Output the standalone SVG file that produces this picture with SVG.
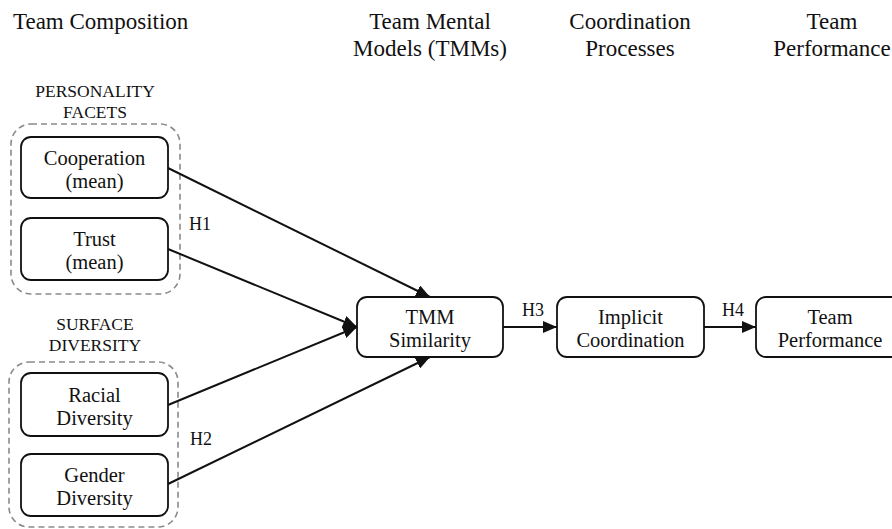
<svg xmlns="http://www.w3.org/2000/svg" width="892" height="529" viewBox="0 0 892 529" font-family="'Liberation Serif', 'DejaVu Serif', serif">
<style>
text{font-family:'Liberation Serif','DejaVu Serif',serif;fill:#111}
.hd{font-size:23px;text-anchor:middle}
.grp{font-size:17.5px;text-anchor:middle}
.bx{font-size:20.5px;text-anchor:middle}
.lbl{font-size:18px}
.node{fill:#fff;stroke:#111;stroke-width:1.8}
.dash{fill:none;stroke:#8a8a8a;stroke-width:1.6;stroke-dasharray:6 4}
.edge{stroke:#111;stroke-width:2;fill:none}
</style>
<defs>
<marker id="ah" viewBox="0 0 14 12" refX="14" refY="6" markerWidth="14" markerHeight="12" markerUnits="userSpaceOnUse" orient="auto">
<path d="M0,0 L14,6 L0,12 z" fill="#111"/>
</marker>
</defs>
<g id="headers">
<text x="13" y="29" font-size="23">Team Composition</text>
<text class="hd" x="430" y="29">Team Mental</text>
<text class="hd" x="430" y="56">Models (TMMs)</text>
<text class="hd" x="630" y="29">Coordination</text>
<text class="hd" x="630" y="56">Processes</text>
<text class="hd" x="832" y="29">Team</text>
<text class="hd" x="832" y="56">Performance</text>
</g>
<g id="personality-facets">
<text class="grp" x="95" y="97">PERSONALITY</text>
<text class="grp" x="95" y="118">FACETS</text>
<rect class="dash" x="11" y="124" width="169" height="170" rx="20"/>
</g>
<g id="surface-diversity">
<text class="grp" x="95" y="330">SURFACE</text>
<text class="grp" x="95" y="351">DIVERSITY</text>
<rect class="dash" x="9" y="362" width="169" height="165" rx="20"/>
</g>
<g id="cooperation">
<rect class="node" x="21" y="137" width="147" height="61" rx="10"/>
<text class="bx" x="94.5" y="165">Cooperation</text>
<text class="bx" x="94.5" y="188">(mean)</text>
</g>
<g id="trust">
<rect class="node" x="21" y="218" width="147" height="62" rx="10"/>
<text class="bx" x="94.5" y="246">Trust</text>
<text class="bx" x="94.5" y="269">(mean)</text>
</g>
<g id="racial">
<rect class="node" x="21" y="373" width="147" height="63" rx="10"/>
<text class="bx" x="94.5" y="402">Racial</text>
<text class="bx" x="94.5" y="425">Diversity</text>
</g>
<g id="gender">
<rect class="node" x="21" y="454" width="147" height="62" rx="10"/>
<text class="bx" x="94.5" y="482">Gender</text>
<text class="bx" x="94.5" y="505">Diversity</text>
</g>
<g id="tmm">
<rect class="node" x="357" y="297" width="146" height="60" rx="10"/>
<text class="bx" x="430" y="324">TMM</text>
<text class="bx" x="430" y="347">Similarity</text>
</g>
<g id="implicit">
<rect class="node" x="557" y="297" width="147" height="60" rx="10"/>
<text class="bx" x="630.5" y="324">Implicit</text>
<text class="bx" x="630.5" y="347">Coordination</text>
</g>
<g id="performance">
<rect class="node" x="756" y="297" width="147" height="60" rx="10"/>
<text class="bx" x="830" y="324">Team</text>
<text class="bx" x="830" y="347">Performance</text>
</g>
<g id="connectors">
<line class="edge" x1="168" y1="168" x2="430" y2="297" marker-end="url(#ah)"/>
<line class="edge" x1="168" y1="249" x2="357" y2="327" marker-end="url(#ah)"/>
<line class="edge" x1="168" y1="405" x2="357" y2="327" marker-end="url(#ah)"/>
<line class="edge" x1="168" y1="484" x2="430" y2="357" marker-end="url(#ah)"/>
<line class="edge" x1="503" y1="327" x2="557" y2="327" marker-end="url(#ah)"/>
<line class="edge" x1="704" y1="327" x2="756" y2="327" marker-end="url(#ah)"/>
<text class="lbl" x="189" y="230">H1</text>
<text class="lbl" x="190" y="445">H2</text>
<text class="lbl" x="522" y="316">H3</text>
<text class="lbl" x="722" y="316">H4</text>
</g>
</svg>
